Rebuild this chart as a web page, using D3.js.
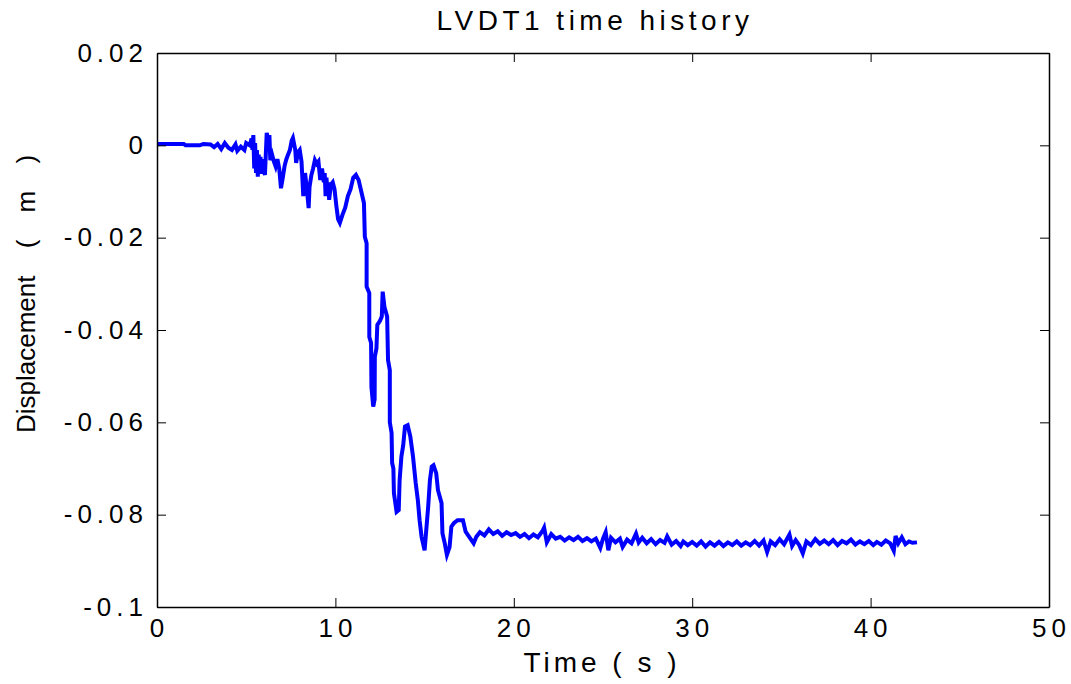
<!DOCTYPE html>
<html>
<head>
<meta charset="utf-8">
<script src="https://cdn.jsdelivr.net/npm/d3@7"></script>
<style>
  body { margin: 0; background: #fff; }
  text { font-family: "Liberation Sans", Arial, sans-serif; fill: #000; }
</style>
</head>
<body>
<div id="plot"></div>
<script>
// time history of LVDT1
var time = [0, 0.5, 1.0, 1.5, 1.6, 2.4, 2.6, 3.0, 3.2, 3.4,
  3.6, 3.8, 4.0, 4.2, 4.4, 4.5, 4.7, 4.9, 5.0, 5.2,
  5.3, 5.35, 5.4, 5.45, 5.5, 5.55, 5.6, 5.65, 5.7, 5.75,
  5.8, 5.85, 5.9, 5.95, 6.05, 6.15, 6.25, 6.3, 6.35, 6.45,
  6.55, 6.65, 6.75, 6.85, 6.95, 7.05, 7.15, 7.25, 7.35, 7.45,
  7.55, 7.62, 7.7, 7.75, 7.8, 7.9, 8.0, 8.1, 8.2, 8.3,
  8.4, 8.5, 8.55, 8.65, 8.75, 8.85, 8.95, 9.05, 9.15, 9.25,
  9.35, 9.4, 9.45, 9.5, 9.55, 9.6, 9.65, 9.75, 9.85, 9.95,
  10.05, 10.15, 10.25, 10.4, 10.55, 10.7, 10.85, 11.0, 11.15, 11.3,
  11.45, 11.6, 11.65, 11.75, 11.75, 11.9, 11.9, 12.0, 12.02, 12.12,
  12.2, 12.21, 12.3, 12.35, 12.5, 12.6, 12.65, 12.75, 12.9, 12.95,
  13.05, 13.05, 13.15, 13.18, 13.25, 13.28, 13.43, 13.55, 13.6, 13.7,
  13.8, 13.9, 14.05, 14.2, 14.35, 14.5, 14.62, 14.72, 14.83, 15.0,
  15.1, 15.2, 15.3, 15.4, 15.5, 15.65, 15.75, 15.95, 16.0, 16.13,
  16.25, 16.4, 16.5, 16.65, 16.85, 17.15, 17.3, 17.5, 17.75,
  17.9, 18.1, 18.35, 18.6, 18.85, 19.1, 19.35, 19.6, 19.85, 20.1,
  20.35, 20.6, 20.85, 21.1, 21.35, 21.6, 21.7, 21.85, 22.1, 22.35,
  22.6, 22.85, 23.1, 23.35, 23.6, 23.85, 24.1, 24.35, 24.6, 24.85,
  25.0, 25.15, 25.3, 25.45, 25.7, 25.95, 26.1, 26.35, 26.6, 26.85,
  27.0, 27.2, 27.45, 27.7, 27.95, 28.2, 28.45, 28.6, 28.85, 29.1,
  29.35, 29.5, 29.75, 30.0, 30.25, 30.5, 30.75, 31.0, 31.25, 31.5,
  31.75, 32.0, 32.25, 32.5, 32.75, 33.0, 33.25, 33.5, 33.75, 34.0,
  34.2, 34.4, 34.65, 34.9, 35.15, 35.45, 35.6, 35.8, 36.0, 36.2,
  36.4, 36.65, 36.9, 37.15, 37.4, 37.65, 37.9, 38.15, 38.4, 38.65,
  38.9, 39.15, 39.4, 39.65, 39.9, 40.15, 40.35, 40.6, 40.85, 41.1,
  41.3, 41.4, 41.55, 41.75, 41.95, 42.15, 42.35, 42.6]

var displacement = [0.0003, 0.0003, 0.0003, 0.0003, 0.0, 0.0, 0.0003, 0.0002, -0.0004, 0.0003,
  -0.0008, 0.0005, -0.0005, -0.0010, 0.0002, -0.0012, -0.0003, -0.0010, 0.0005, 0.0,
  0.0015, -0.0010, 0.0022, -0.0050, 0.0005, -0.0060, -0.0010, -0.0068, -0.0020, -0.0055,
  -0.0025, -0.0062, -0.0030, -0.0050, -0.0064, 0.0027, 0.0010, 0.0022, -0.0032, -0.0020,
  -0.0035, -0.0046, -0.0030, -0.0050, -0.0093, -0.0070, -0.0045, -0.0030, -0.0020, -0.0010,
  0.0010, 0.0016, 0.0, -0.0010, -0.0038, -0.0015, -0.0010, -0.0035, -0.0110, -0.0060,
  -0.0095, -0.0136, -0.0090, -0.0065, -0.0050, -0.0032, -0.0040, -0.0035, -0.0075, -0.0050,
  -0.0080, -0.0060, -0.0110, -0.0070, -0.0100, -0.0080, -0.0118, -0.0085, -0.0080, -0.0095,
  -0.0130, -0.0160, -0.0168, -0.0150, -0.0135, -0.0110, -0.0095, -0.0070, -0.0064, -0.0075,
  -0.0100, -0.0125, -0.0198, -0.0212, -0.0306, -0.0320, -0.0415, -0.0428, -0.0523, -0.0566,
  -0.0550, -0.0458, -0.0440, -0.0389, -0.0380, -0.0371, -0.0317, -0.0350, -0.0371, -0.0465,
  -0.0487, -0.0600, -0.0623, -0.0688, -0.0700, -0.0753, -0.0794, -0.0790, -0.0725, -0.0674,
  -0.0650, -0.0609, -0.0606, -0.0631, -0.0674, -0.0731, -0.0768, -0.0812, -0.0848, -0.0877,
  -0.0830, -0.0783, -0.0725, -0.0696, -0.0693, -0.0710, -0.0747, -0.0775, -0.0840, -0.0862,
  -0.0887, -0.0870, -0.0826, -0.0818, -0.0812, -0.0812, -0.0837, -0.0848, -0.0862,
  -0.0848, -0.0838, -0.0845, -0.0832, -0.0842, -0.0836, -0.0846, -0.0838, -0.0844, -0.0840,
  -0.0848, -0.0842, -0.0851, -0.0843, -0.0849, -0.0836, -0.0828, -0.0860, -0.0842, -0.0852,
  -0.0848, -0.0856, -0.0849, -0.0855, -0.0848, -0.0857, -0.0851, -0.0858, -0.0852, -0.0872,
  -0.0852, -0.0838, -0.0877, -0.0850, -0.0860, -0.0852, -0.0870, -0.0854, -0.0862, -0.0841,
  -0.0860, -0.0850, -0.0862, -0.0853, -0.0864, -0.0855, -0.0861, -0.0847, -0.0865, -0.0857,
  -0.0868, -0.0858, -0.0866, -0.0859, -0.0867, -0.0858, -0.0869, -0.0860, -0.0867, -0.0859,
  -0.0868, -0.0860, -0.0866, -0.0858, -0.0867, -0.0860, -0.0866, -0.0857, -0.0867, -0.0856,
  -0.0881, -0.0858, -0.0866, -0.0853, -0.0864, -0.0843, -0.0868, -0.0855, -0.0866, -0.0884,
  -0.0858, -0.0866, -0.0853, -0.0863, -0.0856, -0.0864, -0.0855, -0.0866, -0.0857, -0.0862,
  -0.0854, -0.0865, -0.0858, -0.0864, -0.0857, -0.0866, -0.0859, -0.0865, -0.0856, -0.0862,
  -0.0878, -0.0846, -0.0862, -0.0849, -0.0864, -0.0858, -0.0861, -0.0860]

var xTicks = [0, 10, 20, 30, 40, 50]
var yTicks = [0.02, 0, -0.02, -0.04, -0.06, -0.08, -0.1]
var yTickLabels = ["0.02", "0", "-0.02", "-0.04", "-0.06", "-0.08", "-0.1"]

var W = 1071, H = 684
var margin = {top: 53, right: 22, bottom: 77, left: 157}
var width = W - margin.left - margin.right,
    height = H - margin.top - margin.bottom

var svg = d3.select("#plot")
    .append("svg")
    .attr("width", W)
    .attr("height", H)

var g = svg.append("g")
    .attr("transform", "translate(" + margin.left + "," + margin.top + ")")

var scale_x = d3.scaleLinear().domain([0, 50]).range([0, width])
var scale_y = d3.scaleLinear().domain([-0.1, 0.02]).range([height, 0])

// the data line
var points = time.map(function(t, i) { return [t, displacement[i]] })

g.append("path")
    .datum(points)
    .attr("d", d3.line().x(d => scale_x(d[0])).y(d => scale_y(d[1])))
    .attr("fill", "none")
    .attr("stroke", "#0000ff")
    .attr("stroke-width", 4)
    .attr("stroke-linejoin", "miter")

// axes: inward ticks on all four sides, matlab style
var tickLen = 9
var fmtY = function(d) { return yTickLabels[yTicks.indexOf(d)] }

var axB = g.append("g").attr("transform", "translate(0," + height + ")")
    .call(d3.axisBottom(scale_x).tickValues(xTicks).tickSizeInner(-tickLen).tickSizeOuter(0).tickPadding(12))
var axT = g.append("g")
    .call(d3.axisTop(scale_x).tickValues(xTicks).tickSizeInner(-tickLen).tickSizeOuter(0).tickFormat(""))
var axL = g.append("g")
    .call(d3.axisLeft(scale_y).tickValues(yTicks).tickSizeInner(-tickLen).tickSizeOuter(0).tickPadding(9).tickFormat(fmtY))
var axR = g.append("g").attr("transform", "translate(" + width + ",0)")
    .call(d3.axisRight(scale_y).tickValues(yTicks).tickSizeInner(-tickLen).tickSizeOuter(0).tickFormat(""))

g.selectAll(".domain").attr("stroke", "#000").attr("stroke-width", 1.5)
g.selectAll(".tick line").attr("stroke", "#000").attr("stroke-width", 1)
g.selectAll(".tick text")
    .style("font-size", "26px")
    .style("letter-spacing", "5px")
    .style("font-family", "'Liberation Sans', Arial, sans-serif")
axB.selectAll(".tick text").attr("dy", "0.71em").attr("dx", "2px")

// title and axis labels
svg.append("text")
    .attr("x", 595).attr("y", 30)
    .attr("text-anchor", "middle")
    .style("font-size", "28px")
    .style("letter-spacing", "4.5px")
    .text("LVDT1 time history")

svg.append("text")
    .attr("x", 602).attr("y", 672)
    .attr("text-anchor", "middle")
    .style("font-size", "28px")
    .style("letter-spacing", "4px")
    .text("Time ( s )")

svg.append("text")
    .attr("transform", "translate(35," + 294 + ") rotate(-90)")
    .attr("text-anchor", "middle")
    .style("font-size", "26px")
    .style("word-spacing", "20px")
    .text("Displacement ( m )")
</script>
</body>
</html>
